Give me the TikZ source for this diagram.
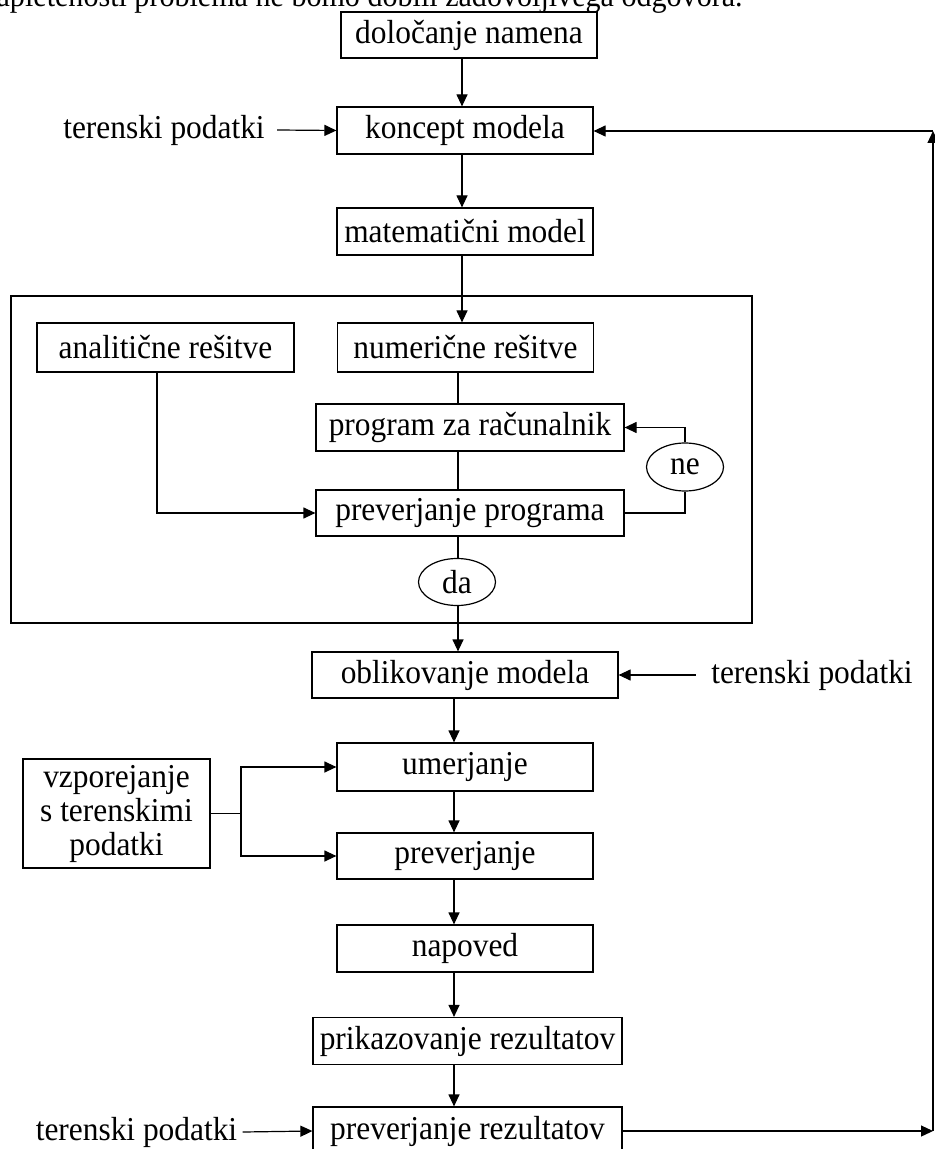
\documentclass[tikz,border=0pt]{standalone}
\usepackage{fontspec}
\setmainfont{Liberation Serif}[FakeStretch=0.94]
\usetikzlibrary{arrows.meta,shapes.geometric}
\newcommand\myfs{\fontsize{16.7}{17}\selectfont}
\begin{document}
\begin{tikzpicture}[x=0.5pt,y=-0.5pt,
  box/.style={draw, line width=0.6pt, inner sep=0pt, font=\myfs},
  lab/.style={inner sep=0pt, font=\myfs},
  oval/.style={draw, ellipse, line width=0.6pt, inner sep=0pt, minimum width=38.5pt, minimum height=24pt, font=\myfs},
  arr/.style={-{Triangle[length=6pt,width=5.5pt]}, line width=0.6pt},
  ln/.style={line width=0.6pt}]
\useasboundingbox (0,0) rectangle (935,1149);
\fill[white] (0,0) rectangle (935,1149);

% cut-off text line at the top
\node[lab, anchor=base east, font=\fontsize{16}{17}\selectfont] (top) at (743,7) {zapletenosti problema ne bomo dobili zadovoljivega odgovora.};

% boxes
\node[box, minimum width=128pt, minimum height=23pt] (dol) at (469,35) {določanje namena};
\node[box, minimum width=128pt, minimum height=23.5pt] (kon) at (465,130.5) {koncept modela};
\node[box, minimum width=128pt, minimum height=23.5pt] (mat) at (465,231.5) {matematični model};
\node[draw, line width=0.6pt, inner sep=0pt, minimum width=370.5pt, minimum height=163.5pt] (big) at (381.5,459.5) {};
\node[box, minimum width=128.5pt, minimum height=24.5pt] (ana) at (165.5,347.5) {analitične rešitve};
\node[box, minimum width=128pt, minimum height=24.5pt] (num) at (465.5,347.5) {numerične rešitve};
\node[box, minimum width=154pt, minimum height=23.5pt] (prog) at (470,427.5) {program za računalnik};
\node[box, minimum width=154pt, minimum height=23pt] (pp) at (470,513) {preverjanje programa};
\node[oval] (ne) at (685,467) {ne};
\node[oval, minimum height=23.5pt] (da) at (457,582) {da};
\node[box, minimum width=153pt, minimum height=23pt] (obl) at (465,675) {oblikovanje modela};
\node[box, minimum width=128pt, minimum height=24pt] (um) at (465,767) {umerjanje};
\node[box, minimum width=128pt, minimum height=23pt] (prev) at (465,856) {preverjanje};
\node[box, minimum width=93.5pt, minimum height=54.5pt, align=center] (vzp) at (116.5,813.5) {vzporejanje\\s terenskimi\\podatki};
\node[box, minimum width=128pt, minimum height=23.5pt] (nap) at (465,948.5) {napoved};
\node[box, minimum width=154.5pt, minimum height=23.5pt] (pri) at (467.5,1041) {prikazovanje rezultatov};
\node[box, minimum width=154.5pt, minimum height=24pt] (pr) at (467.5,1131) {preverjanje rezultatov};

% side labels
\node[lab] (t1) at (164,130) {terenski podatki};
\node[lab] (t2) at (812,675) {terenski podatki};
\node[lab] (t3) at (136.5,1132) {terenski podatki};

% column coordinates
\coordinate (xa) at (462,0);
\coordinate (xb) at (458,0);
\coordinate (xc) at (454,0);
\coordinate (xd) at (157,0);
\coordinate (vj) at (241,0);
\coordinate (br) at (933,1131);
\coordinate (tr) at (933,131);

% main flow
\draw[arr] (dol.south -| xa) -- (kon.north -| xa);
\draw[arr] (kon.south -| xa) -- (mat.north -| xa);
\draw[arr] (mat.south -| xa) -- (num.north -| xa);
\draw[ln] (num.south -| xb) -- (prog.north -| xb);
\draw[ln] (prog.south -| xb) -- (pp.north -| xb);
\draw[ln] (pp.south -| xb) -- (da.north -| xb);
\draw[arr] (da.south -| xb) -- (obl.north -| xb);
\draw[arr] (obl.south -| xc) -- (um.north -| xc);
\draw[arr] (um.south -| xc) -- (prev.north -| xc);
\draw[arr] (prev.south -| xc) -- (nap.north -| xc);
\draw[arr] (nap.south -| xc) -- (pri.north -| xc);
\draw[arr] (pri.south -| xc) -- (pr.north -| xc);

% loops and side inputs
\draw[arr] (ana.south -| xd) |- (pp.west);
\draw[arr] (ne.north) |- (prog.east);
\draw[ln] (pp.east) -| (ne.south);
\draw[ln] (vzp.east) -- (vzp.east -| vj);
\draw[arr] (vzp.east -| vj) |- (um.west);
\draw[arr] (vzp.east -| vj) |- (prev.west);
\draw[arr] ([xshift=6pt]t1.east) -- (kon.west);
\draw[arr] ([xshift=-7.5pt]t2.west) -- (obl.east);
\draw[arr] ([xshift=2.5pt]t3.east) -- (pr.west);

% feedback loop
\draw[arr] (pr.east) -- (br);
\draw[arr] (br) -- (tr);
\draw[arr] (tr) -- (kon.east |- tr);
\end{tikzpicture}
\end{document}
